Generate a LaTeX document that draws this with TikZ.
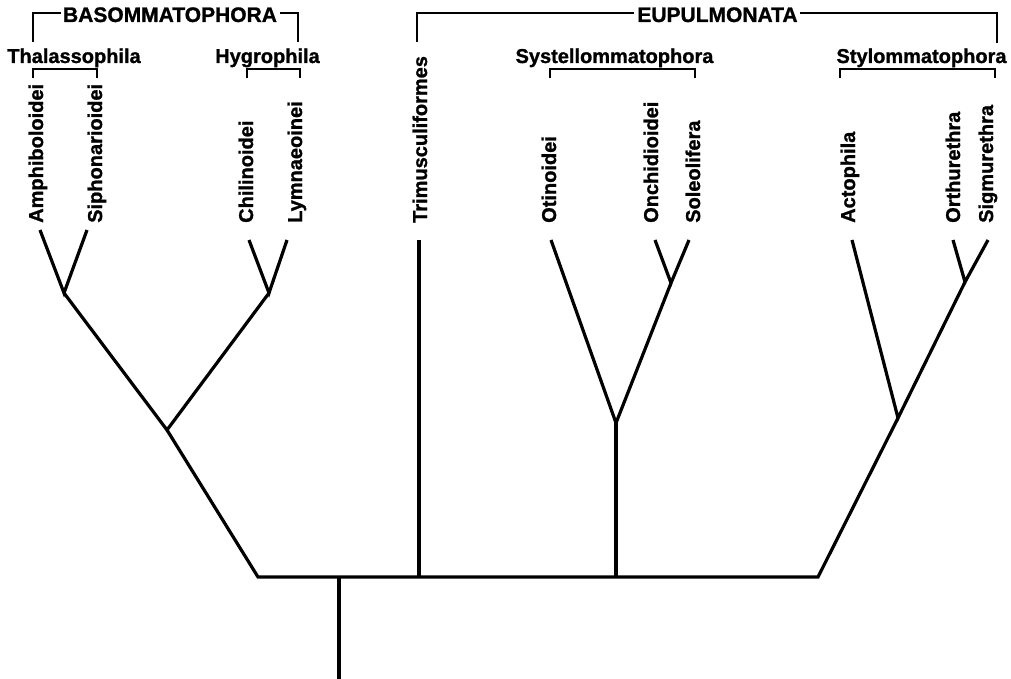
\documentclass[tikz,border=0pt]{standalone}
\usepackage{fontspec}
\setmainfont{Liberation Sans}
\newfontfamily\hvb[FakeBold=1.2]{Liberation Sans Bold}
\begin{document}
\begin{tikzpicture}[x=1pt,y=-1pt,
  tree/.style={line width=3.2pt, line join=miter},
  brk/.style={line width=2.6pt},
  leaf/.style={font=\fontsize{20}{24}\hvb, rotate=90, anchor=base west, inner sep=0pt},
  grp/.style={font=\fontsize{20}{24}\hvb, anchor=base, inner sep=0pt},
  hdr/.style={font=\fontsize{21}{25}\hvb, anchor=base, inner sep=0pt}]
\useasboundingbox (0,0) rectangle (1011,679);

% headers
\node[hdr] (baso) at (170,22) {BASOMMATOPHORA};
\node[hdr] (eupu) at (717.5,22) {EUPULMONATA};
\node[grp] (thal) at (74,63) {Thalassophila};
\node[grp] (hygr) at (267.5,63) {Hygrophila};
\node[grp] (syst) at (614.5,63) {Systellommatophora};
\node[grp] (styl) at (921.5,63) {Stylommatophora};

% leaves
\node[leaf] (amph) at (43,223) {Amphiboloidei};
\node[leaf] (siph) at (102,223) {Siphonarioidei};
\node[leaf] (chil) at (253,223) {Chilinoidei};
\node[leaf] (lymn) at (302,223) {Lymnaeoinei};
\node[leaf] (trim) at (427,223) {Trimusculiformes};
\node[leaf] (otin) at (556,223) {Otinoidei};
\node[leaf] (onch) at (658,223) {Onchidioidei};
\node[leaf] (sole) at (700,223) {Soleolifera};
\node[leaf] (acto) at (855,223) {Actophila};
\node[leaf] (orth) at (960,223) {Orthurethra};
\node[leaf] (sigm) at (993,223) {Sigmurethra};

% top brackets
\coordinate (bsL) at (33,42); \coordinate (bsLt) at (33,13);
\coordinate (bsR) at (298,42); \coordinate (bsRt) at (298,13);
\draw[brk] (bsL) -- (bsLt) -- ([xshift=-2pt]baso.west |- bsLt);
\draw[brk] ([xshift=3pt]baso.east |- bsRt) -- (bsRt) -- (bsR);
\coordinate (euL) at (417,42); \coordinate (euLt) at (417,13);
\coordinate (euR) at (997,43); \coordinate (euRt) at (997,13);
\draw[brk] (euL) -- (euLt) -- ([xshift=-3pt]eupu.west |- euLt);
\draw[brk] ([xshift=2pt]eupu.east |- euRt) -- (euRt) -- (euR);

% group brackets
\coordinate (thL) at (33,78); \coordinate (thR) at (97,78);
\draw[brk] (thL) -- ++(0,-9) -| (thR);
\coordinate (hyL) at (247,78); \coordinate (hyR) at (300,78);
\draw[brk] (hyL) -- ++(0,-9) -| (hyR);
\coordinate (syL) at (550,78); \coordinate (syR) at (695,78);
\draw[brk] (syL) -- ++(0,-9) -| (syR);
\coordinate (stL) at (840,78); \coordinate (stR) at (995,78);
\draw[brk] (stL) -- ++(0,-9) -| (stR);

% branch tops
\coordinate (tamph) at (40,230);
\coordinate (tsiph) at (87,230);
\coordinate (tchil) at (249,240);
\coordinate (tlymn) at (287,240);
\coordinate (ttrim) at (419,240);
\coordinate (totin) at (551,240);
\coordinate (tonch) at (655,240);
\coordinate (tsole) at (689,240);
\coordinate (tacto) at (852,240);
\coordinate (torth) at (953,240);
\coordinate (tsigm) at (988,240);

% joins
\coordinate (jA) at (64,293);
\coordinate (jH) at (269,293);
\coordinate (jB) at (167,430);
\coordinate (bl) at (258,577);
\coordinate (br) at (818,577);
\coordinate (root) at (339,577);
\coordinate (rootend) at (339,679);
\coordinate (trimb) at (419,577);
\coordinate (jO) at (671,283);
\coordinate (jS) at (616,423);
\coordinate (jSb) at (616,577);
\coordinate (jT) at (965,282);
\coordinate (jSt) at (898,418);

\draw[tree] (tamph) -- (jA) -- (tsiph);
\draw[tree] (tchil) -- (jH) -- (tlymn);
\draw[tree] (jA) -- (jB) -- (jH);
\draw[tree] (jB) -- (bl) -- (br) -- (jSt);
\draw[tree] (root) -- (rootend);
\draw[tree] (ttrim) -- (trimb);
\draw[tree] (tonch) -- (jO) -- (tsole);
\draw[tree] (totin) -- (jS) -- (jO);
\draw[tree] (jS) -- (jSb);
\draw[tree] (torth) -- (jT) -- (tsigm);
\draw[tree] (tacto) -- (jSt) -- (jT);
\end{tikzpicture}
\end{document}
